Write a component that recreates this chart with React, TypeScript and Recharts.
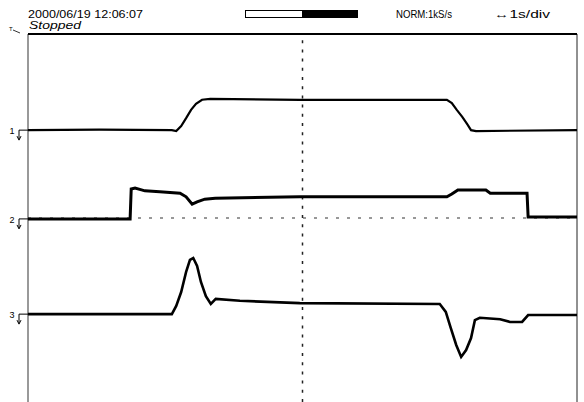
import React from "react";
import { LineChart, Line, XAxis, YAxis, ReferenceLine } from "recharts";

// time in divisions (1 s/div), amplitude in vertical divisions
const trace1 = [
  { t: 0, v: 1.91 }, { t: 1.3, v: 1.92 }, { t: 2.62, v: 1.91 }, { t: 2.7, v: 1.89 },
  { t: 2.79, v: 2.0 }, { t: 2.88, v: 2.17 }, { t: 2.97, v: 2.35 }, { t: 3.06, v: 2.48 },
  { t: 3.17, v: 2.57 }, { t: 3.32, v: 2.59 }, { t: 4.95, v: 2.57 }, { t: 7.63, v: 2.57 },
  { t: 7.72, v: 2.5 }, { t: 7.81, v: 2.35 }, { t: 7.91, v: 2.2 }, { t: 8.0, v: 2.04 },
  { t: 8.07, v: 1.91 }, { t: 8.16, v: 1.89 }, { t: 10, v: 1.91 },
];
const trace2 = [
  { t: 0, v: -0.02 }, { t: 1.86, v: -0.02 }, { t: 1.88, v: 0.63 }, { t: 1.95, v: 0.65 },
  { t: 2.13, v: 0.59 }, { t: 2.4, v: 0.57 }, { t: 2.77, v: 0.54 }, { t: 2.88, v: 0.46 },
  { t: 2.99, v: 0.3 }, { t: 3.08, v: 0.35 }, { t: 3.22, v: 0.41 }, { t: 3.41, v: 0.43 },
  { t: 4.95, v: 0.46 }, { t: 7.63, v: 0.46 }, { t: 7.72, v: 0.52 }, { t: 7.83, v: 0.61 },
  { t: 8.34, v: 0.61 }, { t: 8.42, v: 0.54 }, { t: 9.09, v: 0.54 }, { t: 9.11, v: 0.02 },
  { t: 10, v: 0.02 },
];
const trace3 = [
  { t: 0, v: -2.09 }, { t: 2.62, v: -2.09 }, { t: 2.7, v: -1.91 }, { t: 2.79, v: -1.61 },
  { t: 2.88, v: -1.17 }, { t: 2.95, v: -0.91 }, { t: 3.01, v: -0.87 }, { t: 3.08, v: -1.04 },
  { t: 3.15, v: -1.39 }, { t: 3.24, v: -1.7 }, { t: 3.33, v: -1.87 }, { t: 3.42, v: -1.76 },
  { t: 3.86, v: -1.8 }, { t: 4.95, v: -1.85 }, { t: 7.5, v: -1.87 }, { t: 7.61, v: -2.04 },
  { t: 7.7, v: -2.39 }, { t: 7.8, v: -2.76 }, { t: 7.89, v: -3.02 }, { t: 7.98, v: -2.87 },
  { t: 8.07, v: -2.61 }, { t: 8.14, v: -2.22 }, { t: 8.23, v: -2.17 }, { t: 8.6, v: -2.2 },
  { t: 8.78, v: -2.26 }, { t: 9.0, v: -2.26 }, { t: 9.11, v: -2.11 }, { t: 10, v: -2.11 },
];
const channelLabels = ["1", "2", "3"];
const channelGround = [1.91, -0.02, -2.09];

const GroundTick = (props: any) => {
  const { y, payload } = props;
  const idx = channelGround.indexOf(payload.value);
  const label = channelLabels[idx] ?? "";
  return (
    <g>
      <text x={12} y={y + 4} fontSize={9} fontFamily="Liberation Sans, Arial, sans-serif" textAnchor="middle" fill="#000">
        {label}
      </text>
      <path d={`M 28 ${y} H 19 V ${y + 9}`} stroke="#000" strokeWidth={1} fill="none" />
      <path d={`M 17 ${y + 6} L 19 ${y + 10} L 21 ${y + 6}`} stroke="#000" strokeWidth={1} fill="none" />
    </g>
  );
};

export default function App() {
  const font = "Liberation Sans, Arial, sans-serif";
  return (
    <div style={{ position: "fixed", left: 0, top: 0, width: 584, height: 402, overflow: "hidden", background: "#fff" }}>
      <LineChart width={584} height={402} margin={{ top: 34, right: 7, left: 0, bottom: 0 }}>
        <XAxis type="number" dataKey="t" domain={[0, 10]} hide allowDataOverflow />
        <YAxis
          type="number"
          domain={[-4, 4]}
          width={28}
          ticks={channelGround}
          tick={<GroundTick />}
          axisLine={false}
          tickLine={false}
          allowDataOverflow
        />
        <ReferenceLine x={0} stroke="#777" strokeWidth={1.5} />
        <ReferenceLine x={10} stroke="#222" strokeWidth={1} />
        <ReferenceLine y={4} stroke="#000" strokeWidth={2} />
        <ReferenceLine x={5} stroke="#222" strokeWidth={1.5} strokeDasharray="3 6.2" />
        <ReferenceLine y={0} stroke="#333" strokeWidth={1.2} strokeDasharray="3 8" />
        <Line data={trace1} dataKey="v" type="linear" stroke="#000" strokeWidth={2.2} dot={false} isAnimationActive={false} />
        <Line data={trace2} dataKey="v" type="linear" stroke="#000" strokeWidth={3} dot={false} isAnimationActive={false} />
        <Line data={trace3} dataKey="v" type="linear" stroke="#000" strokeWidth={2.6} dot={false} isAnimationActive={false} />
      </LineChart>
      <svg width={584} height={34} style={{ position: "absolute", left: 0, top: 0 }}>
        <text x={28} y={18} fontSize={11} fontFamily={font} textLength={115} lengthAdjust="spacingAndGlyphs" fill="#000">
          2000/06/19  12:06:07
        </text>
        <text x={29} y={29} fontSize={11} fontStyle="italic" fontFamily={font} textLength={52} lengthAdjust="spacingAndGlyphs" fill="#000">
          Stopped
        </text>
        <text x={9} y={31} fontSize={6} fontFamily={font} fill="#000">T</text>
        <path d="M 13 30 L 20 33" stroke="#000" strokeWidth={0.8} />
        <rect x={245.5} y={10.5} width={57} height={7} fill="#fff" stroke="#000" strokeWidth={1} />
        <rect x={302} y={10} width={56} height={8} fill="#000" />
        <text x={396} y={18} fontSize={11} fontFamily={font} textLength={56} lengthAdjust="spacingAndGlyphs" fill="#000">
          NORM:1kS/s
        </text>
        <text x={494} y={18} fontSize={11} fontFamily={font} textLength={56} lengthAdjust="spacingAndGlyphs" fill="#000">
          ↔1s/div
        </text>
      </svg>
    </div>
  );
}
